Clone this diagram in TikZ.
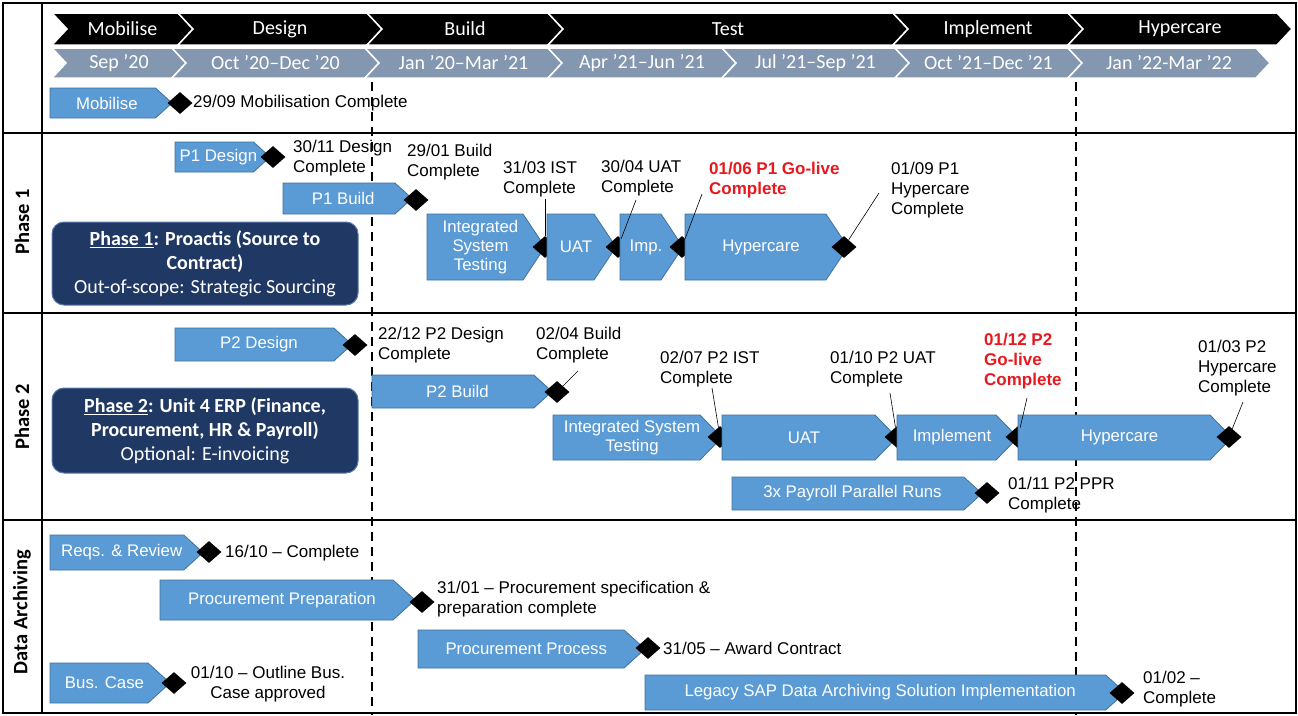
\documentclass[tikz,border=0pt]{standalone}
\usepackage{fontspec}
\setmainfont{Liberation Sans}
\newfontfamily\calib{Carlito}
\usetikzlibrary{shapes.geometric}
\definecolor{taskblue}{RGB}{91,155,213}
\definecolor{taskedge}{RGB}{65,113,156}
\definecolor{navy}{RGB}{31,56,100}
\definecolor{navyedge}{RGB}{90,120,170}
\definecolor{hdrgray}{RGB}{132,151,176}
\definecolor{livered}{RGB}{232,25,30}
\tikzset{
 frame/.style={line width=2.5pt, black},
 taskshape/.style={fill=taskblue, draw=taskedge, line width=0.8pt},
 tasktext/.style={text=white, font=\fontsize{16.8}{19}\selectfont, align=center, inner sep=0pt},
 ms/.style={diamond, fill=black, inner sep=0pt, minimum width=25pt, minimum height=22pt},
 lbl/.style={font=\fontsize{17}{19.8}\selectfont, align=left, anchor=north west, inner sep=0pt},
 golive/.style={lbl, text=livered, font=\fontsize{17}{19.8}\selectfont\bfseries},
 leader/.style={line width=0.6pt, black},
 hdrtext/.style={text=white, font=\calib\fontsize{20}{22}\selectfont, inner sep=0pt},
 rowlbl/.style={font=\calib\bfseries\fontsize{20.5}{24}\selectfont, rotate=90},
 scopebox/.style={fill=navy, draw=navyedge, line width=1pt, rounded corners=12pt, inner sep=0pt},
 scopetext/.style={text=white, font=\calib\fontsize{20}{24}\selectfont, align=center},
 cutover/.style={dash pattern=on 9pt off 6pt, line width=2.2pt},
}
\newcommand\taskbox[6]{%
 \pgfmathsetmacro\tipd{min(0.55*(#5-#3),22)}%
 \draw[taskshape] (#2,#3) -- ({#4-\tipd},#3) -- (#4,{(#3+#5)/2}) -- ({#4-\tipd},#5) -- (#2,#5) -- cycle;
 \node[tasktext] (#1) at ({(#2+#4-0.5*\tipd)/2},{(#3+#5)/2}) {#6};
}
\newcommand\chev[8]{%
 \fill[#2, draw=white, line width=1.5pt] (#3,#5) -- (#4,#5) -- ({#4+#7},{(#5+#6)/2}) -- (#4,#6) -- (#3,#6) -- ({#3+#7},{(#5+#6)/2}) -- cycle;
 \node[hdrtext] (#1) at ({(#3+#4+#7)/2},{(#5+#6)/2}) {#8};
}
\begin{document}
\begin{tikzpicture}[x=1pt,y=-1pt]
\useasboundingbox (0,0) rectangle (1298,715);
\fill[white] (0,0) rectangle (1298,715);

% cut-over lines
\draw[cutover] (372,82) -- (372,715);
\draw[cutover] (1076,82) -- (1076,715);

% frame
\draw[frame] (3,3) rectangle (1296,713);
\draw[frame] (42,3) -- (42,713);
\draw[frame] (3,133) -- (1296,133);
\draw[frame] (3,313) -- (1296,313);
\draw[frame] (3,520) -- (1296,520);

% row labels
\node[rowlbl] (r1) at (22,222) {Phase 1};
\node[rowlbl] (r2) at (22,417) {Phase 2};
\node[rowlbl] (r3) at (22,612) {Data Archiving};

% header chevrons
\chev{h1}{black}{52}{178}{13}{45}{15}{Mobilise}
\chev{h2}{black}{178}{367}{13}{45}{15}{Design}
\chev{h3}{black}{367}{548}{13}{45}{15}{Build}
\chev{h4}{black}{548}{893}{13}{45}{15}{Test}
\chev{h5}{black}{893}{1068}{13}{45}{15}{Implement}
\chev{h6}{black}{1068}{1277}{13}{45}{15}{Hypercare}

\chev{g1}{hdrgray}{52}{172}{48}{78}{14}{Sep ’20}
\chev{g2}{hdrgray}{172}{365}{48}{78}{14}{Oct ’20–Dec ’20}
\chev{g3}{hdrgray}{365}{548}{48}{78}{14}{Jan ’20–Mar ’21}
\chev{g4}{hdrgray}{548}{722}{48}{78}{14}{Apr ’21–Jun ’21}
\chev{g5}{hdrgray}{722}{895}{48}{78}{14}{Jul ’21–Sep ’21}
\chev{g6}{hdrgray}{895}{1068}{48}{78}{14}{Oct ’21–Dec ’21}
\chev{g7}{hdrgray}{1068}{1256}{48}{78}{14}{Jan ’22-Mar ’22}

% mobilise row
\taskbox{tm}{50}{88}{172}{118}{Mobilise}
\node[ms] (dm) at (180,103) {};
\node[lbl] (lm) at (193,95) {29/09 Mobilisation Complete};

% phase 1
\node[scopebox, minimum width=306pt, minimum height=83pt] (s1) at (205,263.5) {};
\node[scopetext] (s1t) at (s1.center) {\bfseries\underline{Phase 1}: Proactis (Source to\\\bfseries Contract)\\Out-of-scope: Strategic Sourcing};

\taskbox{tp1d}{175}{142}{270}{172}{P1 Design}
\node[ms] (dp1d) at (273,157) {};
\node[lbl] (lp1d) at (293,140) {30/11 Design\\Complete};
\taskbox{tp1b}{283}{183}{412}{214}{P1 Build}
\node[ms] (dp1b) at (416,200) {};
\node[lbl] (lp1b) at (407,144) {29/01 Build\\Complete};
\taskbox{tp1i}{427}{214}{545}{280}{Integrated\\System\\Testing}
\node[ms] (dp1i) at (545,247) {};
\node[lbl] (lp1i) at (503,161) {31/03 IST\\Complete};
\taskbox{tp1u}{547}{214}{616}{280}{UAT}
\node[ms] (dp1u) at (618,247) {};
\node[lbl] (lp1u) at (601,160) {30/04 UAT\\Complete};
\taskbox{tp1m}{620}{214}{683}{280}{Imp.}
\node[ms] (dp1m) at (682,247) {};
\node[golive] (lp1m) at (709,162) {01/06 P1 Go-live\\Complete};
\taskbox{tp1h}{685}{214}{848}{280}{Hypercare}
\node[ms] (dp1h) at (844,247) {};
\node[lbl] (lp1h) at (891,162) {01/09 P1\\Hypercare\\Complete};

\coordinate (c1) at (545,199);
\coordinate (c2) at (636,200);
\coordinate (c3) at (702,194);
\coordinate (c4) at (879,193);
\draw[leader] (c1) -- (dp1i);
\draw[leader] (c2) -- (dp1u);
\draw[leader] (c3) -- (dp1m);
\draw[leader] (c4) -- (dp1h);

% phase 2
\node[scopebox, minimum width=306pt, minimum height=85pt] (s2) at (205,430.5) {};
\node[scopetext] (s2t) at (s2.center) {\bfseries\underline{Phase 2}: Unit 4 ERP (Finance,\\\bfseries Procurement, HR \& Payroll)\\Optional: E-invoicing};

\taskbox{tp2d}{175}{328}{352}{361}{P2 Design}
\node[ms] (dp2d) at (355,345) {};
\node[lbl] (lp2d) at (378,327) {22/12 P2 Design\\Complete};
\taskbox{tp2b}{372}{375}{552}{408}{P2 Build}
\node[ms] (dp2b) at (557,392) {};
\node[lbl] (lp2b) at (536,327) {02/04 Build\\Complete};
\taskbox{tp2i}{553}{415}{722}{460}{Integrated System\\Testing}
\node[ms] (dp2i) at (720,437) {};
\node[lbl] (lp2i) at (660,351) {02/07 P2 IST\\Complete};
\taskbox{tp2u}{722}{415}{897}{460}{UAT}
\node[ms] (dp2u) at (897,437) {};
\node[lbl] (lp2u) at (830,351) {01/10 P2 UAT\\Complete};
\taskbox{tp2m}{897}{415}{1018}{460}{Implement}
\node[ms] (dp2m) at (1018,437) {};
\node[golive] (lp2m) at (984,333) {01/12 P2\\Go-live\\Complete};
\taskbox{tp2h}{1018}{415}{1232}{460}{Hypercare}
\node[ms] (dp2h) at (1229,437) {};
\node[lbl] (lp2h) at (1198,340) {01/03 P2\\Hypercare\\Complete};
\taskbox{tp2p}{732}{477}{982}{510}{3x Payroll Parallel Runs}
\node[ms] (dp2p) at (987,493) {};
\node[lbl] (lp2p) at (1008,477) {01/11 P2 PPR\\Complete};

\coordinate (c5) at (578,371);
\coordinate (c6) at (712,388);
\coordinate (c7) at (890,393);
\coordinate (c8) at (1027,398);
\coordinate (c9) at (1243,402);
\draw[leader] (c5) -- (dp2b);
\draw[leader] (c6) -- (dp2i);
\draw[leader] (c7) -- (dp2u);
\draw[leader] (c8) -- (dp2m);
\draw[leader] (c9) -- (dp2h);

% data archiving
\taskbox{tdr}{50}{535}{203}{570}{Reqs. \& Review}
\node[ms] (ddr) at (209,552) {};
\node[lbl] (ldr) at (225,545) {16/10 – Complete};
\taskbox{tdp}{160}{580}{415}{620}{Procurement Preparation}
\node[ms] (ddp) at (422,602) {};
\node[lbl] (ldp) at (437,581) {31/01 – Procurement specification \&\\preparation complete};
\taskbox{tdc}{418}{630}{645}{668}{Procurement Process}
\node[ms] (ddc) at (648,648) {};
\node[lbl] (ldc) at (663,642) {31/05 – Award Contract};
\taskbox{tdb}{50}{663}{170}{703}{Bus. Case}
\node[ms] (ddb) at (174,683) {};
\node[lbl, align=center, anchor=north] (ldb) at (268,666) {01/10 – Outline Bus.\\Case approved};
\taskbox{tdl}{645}{675}{1125}{710}{Legacy SAP Data Archiving Solution Implementation}
\node[ms] (ddl) at (1122,693) {};
\node[lbl] (ldl) at (1143,671) {01/02 –\\Complete};
\end{tikzpicture}
\end{document}
